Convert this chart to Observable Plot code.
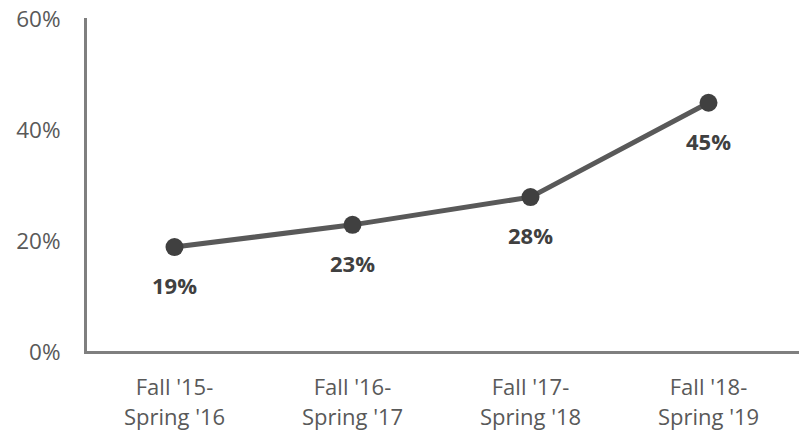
<!DOCTYPE html>
<html><head><meta charset="utf-8">
<script src="https://cdn.jsdelivr.net/npm/d3@7"></script>
<script src="https://cdn.jsdelivr.net/npm/@observablehq/plot@0.6"></script>
<style>body{margin:0;background:#fff}</style>
</head><body><div id="chart"></div>
<script>
const categories = ["Fall '15-\nSpring '16", "Fall '16-\nSpring '17", "Fall '17-\nSpring '18", "Fall '18-\nSpring '19"];
const values = [0.19, 0.23, 0.28, 0.45];
const yTicks = [0, 0.2, 0.4, 0.6];
const data = categories.map((c, i) => ({cat: c, v: values[i]}));
const font = "Open Sans";
const chart = Plot.plot({
  width: 802, height: 434,
  marginLeft: 85, marginRight: 5, marginTop: 19, marginBottom: 82,
  style: {fontFamily: font, background: "#fff"},
  x: {type: "point", domain: categories, padding: 0.5},
  y: {domain: [0, 0.6]},
  marks: [
    Plot.axisY({ticks: yTicks, tickFormat: d3.format(".0%"), tickSize: 0, tickPadding: 25, fontSize: 22.5, color: "#595959", label: null}),
    Plot.axisX({tickSize: 0, tickPadding: 21, fontSize: 22, lineHeight: 1.38, color: "#595959", label: null}),
    Plot.frame({anchor: "left", stroke: "#7f7f7f", strokeWidth: 3}),
    Plot.frame({anchor: "bottom", stroke: "#7f7f7f", strokeWidth: 3}),
    Plot.line(data, {x: "cat", y: "v", stroke: "#595959", strokeWidth: 5}),
    Plot.dot(data, {x: "cat", y: "v", r: 9, fill: "#404040", stroke: "none"}),
    Plot.text(data, {x: "cat", y: "v", text: d => d3.format(".0%")(d.v), dy: 40, fontSize: 22, fontWeight: "bold", fill: "#404040"})
  ]
});
document.getElementById("chart").appendChild(chart);
</script>
</body></html>
